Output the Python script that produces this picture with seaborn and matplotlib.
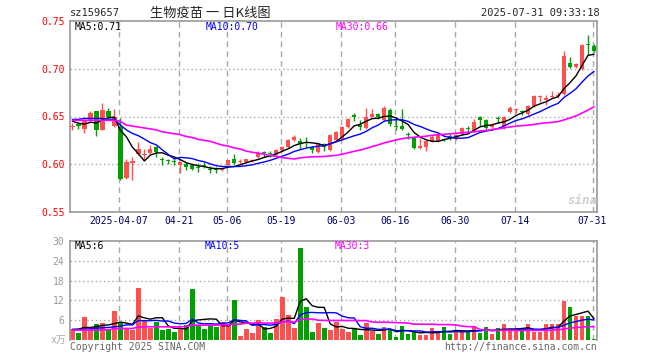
import numpy as np
import pandas as pd
import matplotlib
matplotlib.use("Agg")
import matplotlib.pyplot as plt
import seaborn as sns

# 交易日 (去掉节假日)
holidays = ["2025-04-04", "2025-05-01", "2025-05-02", "2025-05-05", "2025-06-02"]
dates = pd.bdate_range("2025-03-25", "2025-07-31")
dates = dates[~dates.isin(pd.to_datetime(holidays))]

opens = [0.639, 0.642, 0.637, 0.646, 0.656, 0.636, 0.656, 0.640, 0.639, 0.586,
         0.601, 0.611, 0.610, 0.612, 0.618, 0.605, 0.604, 0.603, 0.599, 0.600,
         0.599, 0.597, 0.599, 0.595, 0.595, 0.594, 0.599, 0.605, 0.602, 0.602,
         0.603, 0.608, 0.613, 0.612, 0.611, 0.615, 0.618, 0.625, 0.624, 0.623,
         0.618, 0.613, 0.621, 0.615, 0.625, 0.626, 0.639, 0.651, 0.641, 0.638,
         0.650, 0.653, 0.646, 0.657, 0.640, 0.640, 0.632, 0.628, 0.617, 0.618,
         0.624, 0.624, 0.626, 0.629, 0.626, 0.632, 0.638, 0.635, 0.650, 0.646,
         0.639, 0.648, 0.640, 0.655, 0.657, 0.656, 0.653, 0.661, 0.670, 0.667,
         0.670, 0.671, 0.674, 0.706, 0.702, 0.700, 0.726, 0.724]
highs = [0.643, 0.643, 0.646, 0.656, 0.656, 0.664, 0.659, 0.658, 0.648, 0.606,
         0.608, 0.623, 0.616, 0.620, 0.619, 0.608, 0.606, 0.605, 0.603, 0.602,
         0.600, 0.601, 0.602, 0.598, 0.597, 0.596, 0.604, 0.611, 0.605, 0.606,
         0.605, 0.614, 0.614, 0.614, 0.616, 0.619, 0.626, 0.631, 0.627, 0.629,
         0.619, 0.622, 0.622, 0.632, 0.635, 0.640, 0.648, 0.654, 0.646, 0.659,
         0.658, 0.654, 0.661, 0.659, 0.648, 0.658, 0.634, 0.629, 0.627, 0.625,
         0.631, 0.632, 0.628, 0.632, 0.632, 0.639, 0.640, 0.647, 0.651, 0.647,
         0.643, 0.651, 0.651, 0.661, 0.659, 0.657, 0.662, 0.672, 0.672, 0.672,
         0.677, 0.676, 0.719, 0.712, 0.706, 0.726, 0.735, 0.726]
lows = [0.636, 0.637, 0.633, 0.645, 0.630, 0.636, 0.649, 0.639, 0.584, 0.585,
        0.583, 0.610, 0.604, 0.611, 0.608, 0.599, 0.600, 0.599, 0.591, 0.594,
        0.594, 0.592, 0.596, 0.591, 0.591, 0.593, 0.599, 0.600, 0.600, 0.601,
        0.602, 0.607, 0.608, 0.608, 0.610, 0.614, 0.617, 0.624, 0.616, 0.618,
        0.612, 0.612, 0.614, 0.614, 0.624, 0.625, 0.638, 0.645, 0.636, 0.637,
        0.649, 0.647, 0.645, 0.640, 0.636, 0.636, 0.626, 0.616, 0.616, 0.614,
        0.623, 0.623, 0.624, 0.625, 0.625, 0.631, 0.634, 0.634, 0.640, 0.637,
        0.636, 0.643, 0.637, 0.654, 0.654, 0.652, 0.652, 0.660, 0.665, 0.662,
        0.669, 0.669, 0.673, 0.701, 0.701, 0.699, 0.714, 0.718]
closes = [0.640, 0.640, 0.646, 0.654, 0.636, 0.657, 0.650, 0.650, 0.585, 0.602,
          0.603, 0.616, 0.611, 0.616, 0.613, 0.604, 0.603, 0.602, 0.602, 0.597,
          0.595, 0.596, 0.598, 0.594, 0.594, 0.595, 0.604, 0.601, 0.603, 0.605,
          0.604, 0.612, 0.612, 0.611, 0.615, 0.618, 0.625, 0.629, 0.621, 0.622,
          0.615, 0.621, 0.618, 0.631, 0.634, 0.639, 0.647, 0.650, 0.639, 0.650,
          0.653, 0.649, 0.659, 0.642, 0.639, 0.637, 0.631, 0.617, 0.619, 0.624,
          0.629, 0.631, 0.625, 0.628, 0.631, 0.638, 0.637, 0.644, 0.646, 0.638,
          0.641, 0.647, 0.650, 0.659, 0.658, 0.655, 0.661, 0.671, 0.671, 0.669,
          0.671, 0.672, 0.713, 0.702, 0.705, 0.725, 0.725, 0.719]
# 成交量 (万手)
volumes = [3.2, 2.2, 6.9, 3.2, 4.7, 5.1, 3.0, 8.8, 5.5, 3.3,
           3.0, 15.8, 5.9, 3.6, 5.4, 3.0, 3.3, 2.4, 3.5, 4.5,
           15.5, 4.5, 3.3, 4.2, 4.0, 5.6, 4.4, 12.1, 1.2, 3.2,
           2.1, 6.1, 4.0, 2.1, 6.4, 13.0, 7.6, 3.7, 28.0, 10.1,
           2.5, 5.2, 3.6, 3.0, 5.5, 3.3, 2.4, 3.3, 1.5, 5.1,
           2.8, 1.8, 3.9, 3.2, 0.9, 4.2, 1.8, 2.4, 1.5, 1.5,
           3.6, 2.4, 3.9, 1.8, 2.7, 3.0, 2.4, 4.2, 2.1, 3.9,
           1.8, 3.6, 4.8, 2.7, 3.6, 2.7, 4.8, 2.3, 2.3, 5.0,
           4.8, 4.8, 11.8, 10.0, 7.3, 7.3, 7.3, 0.3]

# 均线开头 (图中读出, 缺少更早的数据)
ma5_head = [0.645, 0.643, 0.642, 0.644]
ma10_head = [0.647, 0.647, 0.648, 0.648, 0.648, 0.648, 0.647, 0.647, 0.641]
ma30_head = [0.646, 0.646, 0.646, 0.646, 0.646, 0.646, 0.646, 0.646, 0.645,
             0.641, 0.640, 0.639, 0.638, 0.637, 0.636, 0.634, 0.633, 0.632,
             0.631, 0.629, 0.628, 0.626, 0.625, 0.624, 0.622, 0.620, 0.619,
             0.617, 0.616]
vma5_head = [3.2, 3.3, 3.8, 3.8]
vma10_head = [3.2, 3.2, 3.3, 3.4, 3.6, 3.7, 3.8, 4.0, 4.2]
vma30_head = [3.0, 3.0, 3.0, 3.0, 3.0, 3.1, 3.1, 3.4, 3.5, 3.5, 3.5, 3.9, 4.0,
              4.0, 4.0, 4.0, 4.0, 4.0, 4.0, 4.1, 4.5, 4.5, 4.5, 4.5, 4.5, 4.6,
              4.6, 4.8, 4.8]

tick_dates = ["2025-04-07", "2025-04-21", "2025-05-06", "2025-05-19", "2025-06-03",
              "2025-06-16", "2025-06-30", "2025-07-14", "2025-07-31"]
tick_labels = ["2025-04-07", "04-21", "05-06", "05-19", "06-03",
               "06-16", "06-30", "07-14", "07-31"]
price_ticks = [0.55, 0.60, 0.65, 0.70, 0.75]
vol_ticks = [6, 12, 18, 24, 30]

df = pd.DataFrame({"o": opens, "h": highs, "l": lows, "c": closes, "v": volumes})
df["x"] = np.arange(len(df))


def ma(s, n, head):
    m = s.rolling(n).mean()
    m.iloc[:len(head)] = head
    return m


df["ma5"] = ma(df["c"], 5, ma5_head)
df["ma10"] = ma(df["c"], 10, ma10_head)
df["ma30"] = ma(df["c"], 30, ma30_head)
df["vma5"] = ma(df["v"], 5, vma5_head)
df["vma10"] = ma(df["v"], 10, vma10_head)
df["vma30"] = ma(df["v"], 30, vma30_head)

sns.set_theme(style="white")
plt.rcParams["font.family"] = ["DejaVu Sans Mono", "Noto Sans CJK SC"]

RED = "#ff5050"
GREEN = "#00a000"
GRID = "#aaaaaa"
FRAME = "#999999"
W, H = 660, 360


def fx(x):
    return x / W


def fy(y):
    return 1 - y / H


fig = plt.figure(figsize=(6.6, 3.6), dpi=100)
ax = fig.add_axes([fx(70), fy(212), fx(597) - fx(70), fy(21) - fy(212)])
axv = fig.add_axes([fx(70), fy(340), fx(597) - fx(70), fy(241) - fy(340)])

tick_idx = [dates.get_loc(pd.Timestamp(d)) for d in tick_dates]
cols = np.where(df["c"] >= df["o"], RED, GREEN)

# 网格
for a in (ax, axv):
    for t in tick_idx:
        a.axvline(t - 0.25, color=GRID, lw=1, ls=(0, (4, 3)), zorder=0)
ax.hlines([0.60, 0.65, 0.70], -1, 100, color=GRID, lw=1, ls=(0, (1, 2)), zorder=0)
axv.hlines(vol_ticks[:-1], -1, 100, color=GRID, lw=1, ls=(0, (1, 2)), zorder=0)

# K线
ax.vlines(df["x"], df["l"], df["h"], colors=cols, lw=1, zorder=2)
body = np.maximum((df["c"] - df["o"]).abs(), 0.0011)
ax.bar(df["x"], body, bottom=np.minimum(df["o"], df["c"]), width=0.72,
       color=cols, lw=0, zorder=3)

sns.lineplot(data=df, x="x", y="ma5", ax=ax, color="black", lw=1, zorder=4)
sns.lineplot(data=df, x="x", y="ma10", ax=ax, color="#0000ff", lw=1, zorder=4)
sns.lineplot(data=df, x="x", y="ma30", ax=ax, color="#ff00ff", lw=1.2, zorder=4)

# 成交量
axv.bar(df["x"], df["v"], width=0.78, color=cols, lw=0, zorder=2)
sns.lineplot(data=df, x="x", y="vma5", ax=axv, color="black", lw=1, zorder=4)
sns.lineplot(data=df, x="x", y="vma10", ax=axv, color="#0000ff", lw=1, zorder=4)
sns.lineplot(data=df, x="x", y="vma30", ax=axv, color="#ff00ff", lw=1.2, zorder=4)

for a in (ax, axv):
    a.set_xlim(-0.4, 87.5)
    a.set_xlabel("")
    a.set_ylabel("")
    for s in a.spines.values():
        s.set_color(FRAME)
        s.set_linewidth(1.2)
    a.tick_params(length=0, labelsize=7)

ax.set_ylim(0.55, 0.75)
ax.set_yticks(price_ticks)
ax.set_yticklabels([f"{p:.2f}" for p in price_ticks], color="red")
ax.set_xticks([t - 0.25 for t in tick_idx])
ax.set_xticklabels(tick_labels, color="#000066")
ax.tick_params(axis="x", pad=3)
ax.tick_params(axis="y", pad=4)

axv.set_ylim(0, 30)
axv.set_yticks(vol_ticks)
axv.set_yticklabels([str(v) for v in vol_ticks], color="#999999")
axv.set_xticks([])
axv.tick_params(axis="y", pad=4)
axv.spines["bottom"].set_visible(False)

# 文字
fig.text(fx(70), fy(13), "sz159657", fontsize=7.5, va="center")
fig.text(fx(150), fy(13), "生物疫苗 一 日K线图", fontsize=9.5, va="center",
         family=["Noto Sans CJK SC", "DejaVu Sans"])
fig.text(fx(600), fy(13), "2025-07-31 09:33:18", fontsize=7.5, va="center", ha="right")

fig.text(fx(75), fy(27), "MA5:0.71", fontsize=7, va="center", color="black")
fig.text(fx(206), fy(27), "MA10:0.70", fontsize=7, va="center", color="#0000ff")
fig.text(fx(336), fy(27), "MA30:0.66", fontsize=7, va="center", color="#ff00ff")
fig.text(fx(75), fy(246), "MA5:6", fontsize=7, va="center", color="black")
fig.text(fx(205), fy(246), "MA10:5", fontsize=7, va="center", color="#0000ff")
fig.text(fx(335), fy(246), "MA30:3", fontsize=7, va="center", color="#ff00ff")

fig.text(fx(66), fy(340), "x万", fontsize=7, va="center", ha="right", color="#aaaaaa",
         family=["DejaVu Sans Mono", "Noto Sans CJK SC"])
fig.text(fx(70), fy(347), "Copyright 2025 SINA.COM", fontsize=7, va="center", color="#666666")
fig.text(fx(597), fy(347), "http://finance.sina.com.cn", fontsize=7, va="center",
         ha="right", color="#666666")
fig.text(fx(597), fy(200), "sina", fontsize=9, va="center", ha="right",
         color="#d0d0d0", style="italic", weight="bold")

fig.savefig("out.png", dpi=100)
